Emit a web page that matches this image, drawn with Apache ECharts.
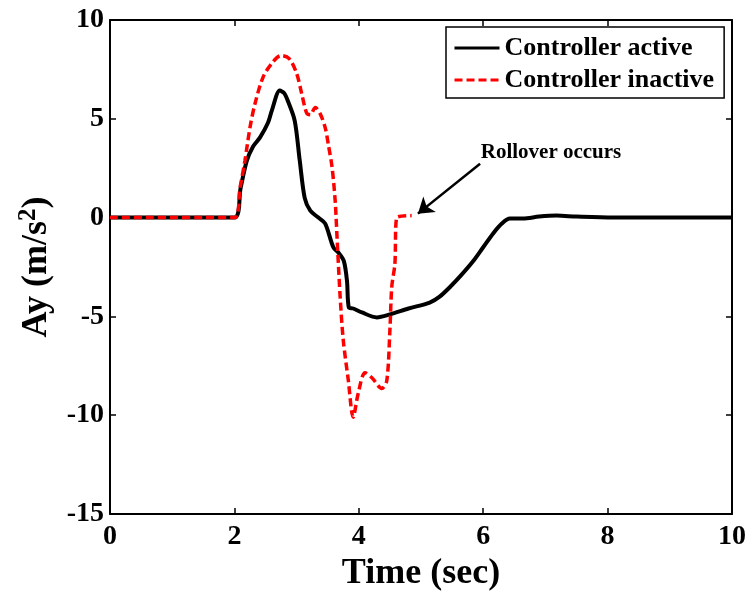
<!DOCTYPE html>
<html><head><meta charset="utf-8">
<script src="https://cdn.jsdelivr.net/npm/echarts@6/dist/echarts.min.js"></script>
<style>html,body{margin:0;padding:0;background:#fff}#c{width:748px;height:592px}</style>
</head><body><div id="c"></div>
<script>
const seriesNames = ['Controller active', 'Controller inactive'];
const xTicks = [0, 2, 4, 6, 8, 10];
const yTicks = [-15, -10, -5, 0, 5, 10];
const activeT = [0,2.0,2.1,2.2,2.3,2.41,2.54,2.6,2.73,2.8,2.86,2.97,3.05,3.13,3.22,3.35,3.46,3.59,3.68,3.76,3.81,3.84,3.91,4.05,4.29,4.5,4.8,5.14,5.3,5.47,5.65,5.84,6.0,6.16,6.3,6.43,6.64,6.9,7.18,7.5,8.09,9,10];
const activeY = [0,0,1.5,2.88,3.6,4.05,4.8,5.4,6.43,6.3,5.9,4.9,2.9,1.0,0.35,0,-0.3,-1.5,-1.8,-2.2,-3.2,-4.55,-4.6,-4.8,-5.05,-4.9,-4.6,-4.3,-4.0,-3.5,-2.9,-2.2,-1.5,-0.8,-0.3,-0.05,-0.05,0.05,0.1,0.05,0,0,0];
const inactiveT = [0,2.0,2.09,2.17,2.25,2.33,2.46,2.6,2.75,2.88,3.0,3.08,3.16,3.22,3.30,3.38,3.46,3.51,3.57,3.62,3.65,3.70,3.75,3.83,3.91,3.99,4.10,4.21,4.37,4.45,4.50,4.53,4.58,4.61,4.85];
const inactiveY = [0,0,1.5,2.9,4.55,5.75,7.1,7.8,8.2,8.05,7.3,6.3,5.3,5.2,5.57,5.25,4.55,3.7,2.55,0.86,-1.0,-4.0,-6.2,-8.2,-10.1,-8.9,-7.85,-8.1,-8.65,-8.25,-5.7,-3.5,-2.35,0,0.1];
const annotationText = 'Rollover occurs';
const arrowFrom = [5.95, 2.73];
const arrowTo = [4.95, 0.2];
const textAt = [7.09, 3.29];

const FONT = 'Liberation Serif';
const zip = (a, b) => a.map((v, i) => [v, b[i]]);
const chart = echarts.init(document.getElementById('c'));
const axisCommon = {
  axisLine: {show: true, onZero: false, lineStyle: {color: '#000', width: 2}},
  axisTick: {show: true, inside: true, length: 6, lineStyle: {color: '#000', width: 1.5}},
  splitLine: {show: false}
};
chart.setOption({
  animation: false,
  backgroundColor: '#fff',
  grid: {left: 110, right: 16, top: 20, bottom: 78, outerBoundsMode: 'none', containLabel: false},
  legend: {
    data: seriesNames, orient: 'vertical', left: 446, top: 27,
    itemWidth: 45, itemHeight: 14, itemGap: 6,
    padding: [8, 10, 5, 7],
    itemStyle: {opacity: 0},
    lineStyle: {width: 3},
    borderColor: '#000', borderWidth: 1.5, backgroundColor: '#fff',
    textStyle: {fontFamily: FONT, fontWeight: 'bold', fontSize: 26, color: '#000', lineHeight: 26}
  },
  xAxis: [
    Object.assign({type: 'value', min: xTicks[0], max: xTicks[xTicks.length-1], interval: 2,
      name: 'Time (sec)', nameLocation: 'middle', nameGap: 40,
      nameTextStyle: {fontFamily: FONT, fontWeight: 'bold', fontSize: 36, color: '#000'},
      axisLabel: {fontFamily: FONT, fontWeight: 'bold', fontSize: 28, color: '#000', margin: 9}}, axisCommon),
    Object.assign({type: 'value', position: 'top', min: 0, max: 10, interval: 2, axisLabel: {show: false}}, axisCommon)
  ],
  yAxis: [
    Object.assign({type: 'value', min: yTicks[0], max: yTicks[yTicks.length-1], interval: 5,
      name: '{a|Ay (m/s}{s|2}{a|)}', nameLocation: 'middle', nameGap: 52,
      nameTextStyle: {rich: {
        a: {fontFamily: FONT, fontWeight: 'bold', fontSize: 36, color: '#000', lineHeight: 42},
        s: {fontFamily: FONT, fontWeight: 'bold', fontSize: 25, color: '#000', lineHeight: 42, verticalAlign: 'top'}
      }},
      axisLabel: {fontFamily: FONT, fontWeight: 'bold', fontSize: 28, color: '#000', margin: 6}}, axisCommon),
    Object.assign({type: 'value', position: 'right', min: -15, max: 10, interval: 5, axisLabel: {show: false}}, axisCommon)
  ],
  series: [
    {name: seriesNames[0], type: 'line', data: zip(activeT, activeY), symbol: 'none', smooth: 0.3,
      lineStyle: {color: '#000', width: 4}, itemStyle: {color: '#000'}},
    {name: seriesNames[1], type: 'line', data: zip(inactiveT, inactiveY), symbol: 'none', smooth: 0.3,
      lineStyle: {color: '#ff0000', width: 3.5, type: [8, 4]}, itemStyle: {color: '#ff0000'},
      markLine: {silent: true, symbol: ['none', 'arrow'], symbolSize: 15,
        lineStyle: {color: '#000', width: 2.5, type: 'solid'}, label: {show: false},
        data: [[{coord: arrowFrom}, {coord: arrowTo}]]},
      markPoint: {silent: true, symbol: 'circle', symbolSize: 0,
        label: {show: true, formatter: annotationText, fontFamily: FONT, fontWeight: 'bold', fontSize: 21, color: '#000', position: 'inside'},
        data: [{coord: textAt}]}
    }
  ]
});
</script></body></html>
